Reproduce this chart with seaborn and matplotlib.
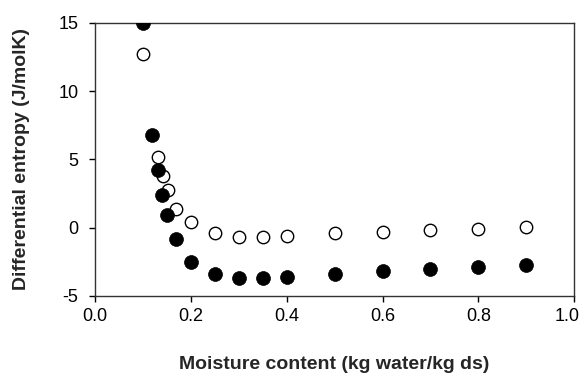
import numpy as np
import pandas as pd
import matplotlib
matplotlib.use("Agg")
import matplotlib.pyplot as plt
import matplotlib.transforms as mtransforms
import seaborn as sns

# 数据
moisture_filled = [0.10, 0.118, 0.132, 0.14, 0.151, 0.17, 0.20, 0.25, 0.30, 0.35, 0.40, 0.50, 0.60, 0.70, 0.80, 0.90]
entropy_filled = [15.0, 6.8, 4.2, 2.4, 0.9, -0.85, -2.5, -3.4, -3.7, -3.7, -3.6, -3.4, -3.15, -3.0, -2.85, -2.7]

moisture_open = [0.10, 0.132, 0.142, 0.153, 0.17, 0.20, 0.25, 0.30, 0.35, 0.40, 0.50, 0.60, 0.70, 0.80, 0.90]
entropy_open = [12.7, 5.15, 3.8, 2.76, 1.37, 0.4, -0.4, -0.7, -0.7, -0.6, -0.4, -0.35, -0.17, -0.1, 0.08]

x_ticks = [0.0, 0.2, 0.4, 0.6, 0.8, 1.0]
y_ticks = [-5, 0, 5, 10, 15]

sns.set_style("ticks")
plt.rcParams['font.family'] = ['Liberation Sans', 'DejaVu Sans']

df_filled = pd.DataFrame({"x": moisture_filled, "y": entropy_filled})
df_open = pd.DataFrame({"x": moisture_open, "y": entropy_open})

fig = plt.figure(figsize=(5.83, 3.76), dpi=100)
ax = fig.add_axes([0.163, 0.213, 0.822, 0.726])

sns.scatterplot(data=df_open, x="x", y="y", ax=ax, s=80, marker="o",
                facecolor="white", edgecolor="black", linewidth=1.0, zorder=3)
sns.scatterplot(data=df_filled, x="x", y="y", ax=ax, s=100, marker="o",
                color="black", edgecolor="black", linewidth=0.5, zorder=4)

ax.set_xlim(0, 1.0)
ax.set_ylim(-5, 15)
ax.set_xticks(x_ticks)
ax.set_yticks(y_ticks)
ax.set_xticklabels([f"{t:.1f}" for t in x_ticks], fontsize=13)
ax.set_yticklabels([str(t) for t in y_ticks], fontsize=13)
ax.tick_params(direction="out", length=4, width=1, colors="black")
ax.tick_params(axis="y", pad=8)
ax.tick_params(axis="x", pad=5)

# 最右边的 "1.0" 稍微左移，免得被裁掉
last = ax.get_xticklabels()[-1]
last.set_transform(last.get_transform() +
                   mtransforms.ScaledTranslation(-7 / 100, 0, fig.dpi_scale_trans))

for sp in ax.spines.values():
    sp.set_visible(True)
    sp.set_color("#333333")
    sp.set_linewidth(1.0)

ax.set_xlabel("Moisture content (kg water/kg ds)", fontsize=14, fontweight="bold")
ax.set_ylabel("Differential entropy (J/molK)", fontsize=14, fontweight="bold")
ax.xaxis.set_label_coords(0.5, -0.22)
ax.yaxis.set_label_coords(-0.135, 0.5)

fig.savefig("out.png", dpi=100)
